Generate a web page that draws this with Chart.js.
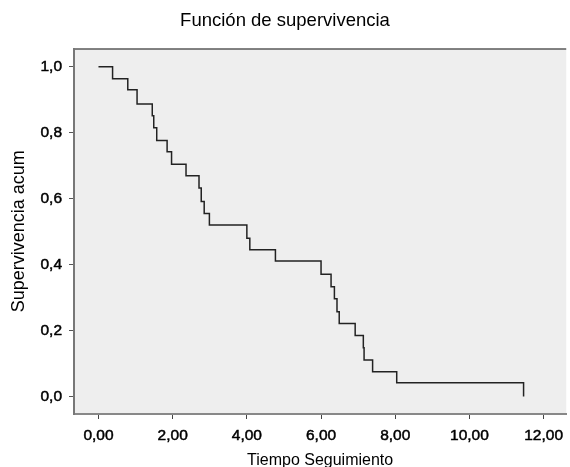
<!doctype html>
<html lang="es">
<head>
<meta charset="utf-8">
<title>Función de supervivencia</title>
<script src="https://cdn.jsdelivr.net/npm/chart.js"></script>
<style>
  html, body { margin: 0; padding: 0; background: #fff; overflow: hidden; }
  #wrap { width: 570px; height: 467px; position: relative; }
</style>
</head>
<body>
<div id="wrap"><canvas id="km"></canvas></div>
<script>
// tiempos de evento y supervivencia acumulada
const TIEMPOS = [0, 0.38, 0.79, 1.04, 1.45, 1.49, 1.57, 1.85, 1.97, 2.36, 2.71, 2.77, 2.85, 2.99,
                 4.00, 4.08, 4.77, 6.00, 6.27, 6.36, 6.43, 6.49, 6.92, 7.14, 7.16, 7.39, 8.04, 11.46];
const SUPERV = [1.0, 0.963, 0.930, 0.887, 0.851, 0.815, 0.776, 0.742, 0.704, 0.669, 0.632, 0.591, 0.555, 0.520,
                0.480, 0.445, 0.411, 0.371, 0.333, 0.296, 0.257, 0.221, 0.185, 0.148, 0.111, 0.075, 0.0415, 0];
const X_TICKS = [0, 2, 4, 6, 8, 10, 12];
const Y_TICKS = [0, 0.2, 0.4, 0.6, 0.8, 1.0];

const FONT = "'Liberation Sans', Arial, sans-serif";

// fondo gris del area y linea superior
const fondo = {
    id: 'fondo',
    beforeDraw(chart) {
        const { ctx, chartArea: a } = chart;
        ctx.save();
        ctx.fillStyle = '#eeeeee';
        ctx.fillRect(a.left, a.top, a.right - a.left, a.bottom - a.top);
        ctx.strokeStyle = '#111';
        ctx.lineWidth = 1;
        ctx.beginPath();
        ctx.moveTo(a.left, a.top + 0.5);
        ctx.lineTo(a.right, a.top + 0.5);
        ctx.stroke();
        ctx.restore();
    }
};

const puntos = TIEMPOS.map((t, i) => ({ x: t, y: SUPERV[i] }));

new Chart(document.getElementById('km'), {
    type: 'line',
    data: {
        datasets: [{
            data: puntos,
            stepped: 'before',
            borderColor: '#222',
            borderWidth: 1.5,
            pointRadius: 0,
            fill: false
        }]
    },
    options: {
        responsive: true,
        maintainAspectRatio: false,
        animation: false,
        layout: { padding: 0 },
        plugins: {
            legend: { display: false },
            tooltip: { enabled: false },
            title: {
                display: true,
                text: 'Función de supervivencia',
                color: '#000',
                font: { family: FONT, size: 18.5, weight: 'normal' },
                padding: { top: 9.5, bottom: 16.8 }
            }
        },
        scales: {
            x: {
                type: 'linear',
                min: -0.66,
                max: 12.61,
                afterBuildTicks: s => { s.ticks = X_TICKS.map(v => ({ value: v })); },
                afterFit: s => { s.height = 53; },
                ticks: {
                    color: '#000',
                    padding: 7,
                    maxRotation: 0,
                    textStrokeColor: '#000',
                    textStrokeWidth: 0.5,
                    font: { family: FONT, size: 15.5 },
                    callback: v => v.toFixed(2).replace('.', ',')
                },
                grid: { drawOnChartArea: false, drawTicks: true, tickLength: 5, tickColor: '#444' },
                border: { color: '#888', width: 2 },
                title: {
                    display: true,
                    text: 'Tiempo Seguimiento',
                    color: '#000',
                    font: { family: FONT, size: 16 },
                    padding: { top: 0, bottom: -3 }
                }
            },
            y: {
                type: 'linear',
                min: -0.053,
                max: 1.055,
                afterBuildTicks: s => { s.ticks = Y_TICKS.map(v => ({ value: v })); },
                afterFit: s => { s.width = 74; },
                ticks: {
                    color: '#000',
                    padding: 7,
                    textStrokeColor: '#000',
                    textStrokeWidth: 0.5,
                    font: { family: FONT, size: 15.5 },
                    callback: v => v.toFixed(1).replace('.', ',')
                },
                grid: { drawOnChartArea: false, drawTicks: true, tickLength: 5, tickColor: '#555' },
                border: { color: '#777', width: 2 },
                title: {
                    display: true,
                    text: 'Supervivencia acum',
                    color: '#000',
                    font: { family: FONT, size: 18 },
                    padding: { top: 8.5, bottom: 0 }
                }
            }
        }
    },
    plugins: [fondo]
});
</script>
</body>
</html>
